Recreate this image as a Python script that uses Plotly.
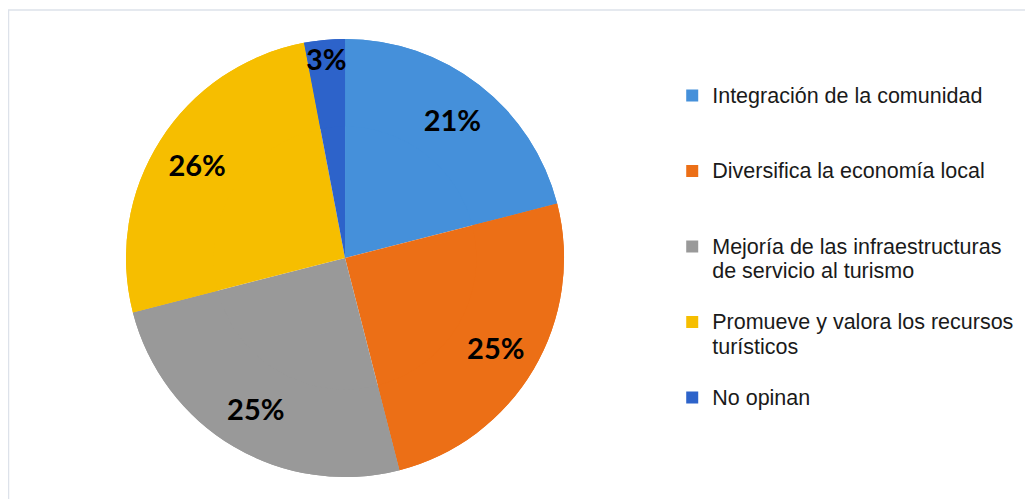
import plotly.graph_objects as go

labels = [
    "Integración de la comunidad",
    "Diversifica la economía local",
    "Mejoría de las infraestructuras<br>de servicio al turismo",
    "Promueve y valora los recursos<br>turísticos",
    "No opinan",
]
values = [21, 25, 25, 26, 3]
colors = ["#4590DA", "#EC6F16", "#999999", "#F6BE00", "#2D63CA"]

# legend text rendered larger than the (line-spacing) legend font; pad entries
span_open = "<span style='font-size:21.5px'>"
pad = ["<br> <br> ", "<br> <br> ", "<br> ", "<br> ", "<br> <br> "]
legend_labels = [
    span_open + l.replace("<br>", "</span><br>" + span_open) + "</span>" + p
    for l, p in zip(labels, pad)
]

dom = dict(x=[0.1142, 0.5383], y=[0.0601, 0.9379])

# full pie underneath (fills the centre)
base = go.Pie(
    labels=legend_labels, values=values, sort=False, direction="clockwise",
    marker=dict(colors=colors, line=dict(width=0)),
    textinfo="none", showlegend=False, domain=dom, hoverinfo="skip",
)
# ring on top carrying the percentage labels and the legend
ring = go.Pie(
    labels=legend_labels, values=values, sort=False, direction="clockwise",
    hole=0.6,
    marker=dict(colors=colors, line=dict(width=0)),
    texttemplate="%{percent:.0%}",
    textposition="inside",
    insidetextorientation="horizontal",
    textfont=dict(family="Lato", size=29, color="black", weight="bold"),
    domain=dom,
    hoverinfo="percent",
)

fig = go.Figure([base, ring])

fig.update_layout(
    width=1033, height=499,
    margin=dict(l=0, r=0, t=0, b=0),
    paper_bgcolor="white",
    uniformtext=dict(mode="show", minsize=29),
    legend=dict(
        x=0.643, y=0.862, xanchor="left", yanchor="top",
        valign="top",
        font=dict(family="Liberation Sans", size=18.6, color="#1a1a1a"),
        itemwidth=30,
        bgcolor="rgba(0,0,0,0)",
    ),
    shapes=[dict(
        type="rect", xref="paper", yref="paper",
        x0=0.5/1033, x1=1.03, y0=-0.03, y1=1-2/499,
        line=dict(color="#dde2ea", width=1.5),
    )],
)

fig.write_html("out.html")
